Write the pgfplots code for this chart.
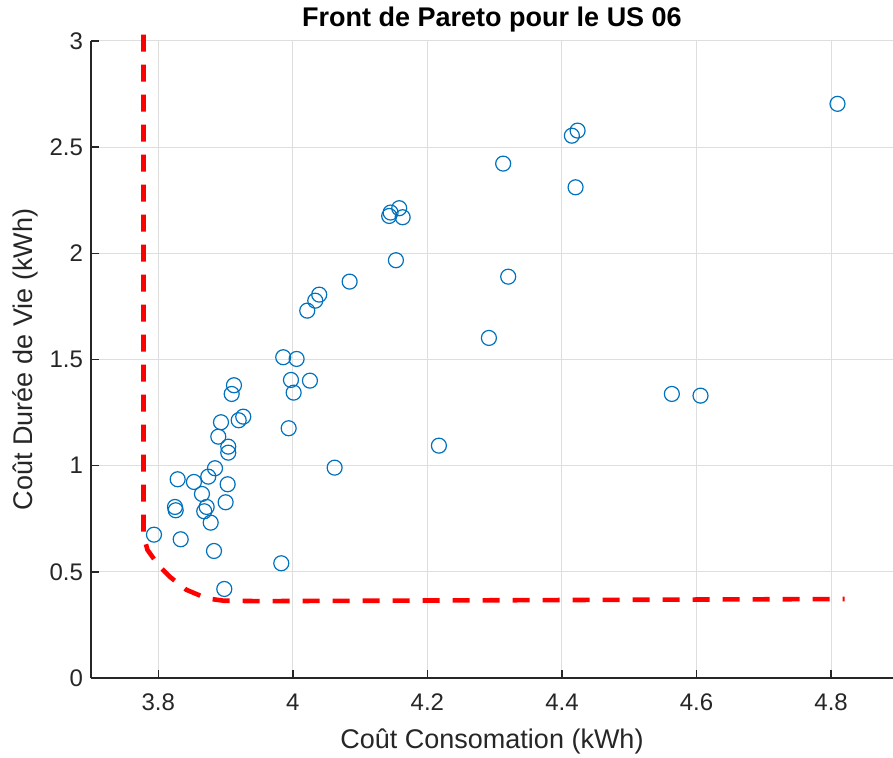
\documentclass[border=0pt]{standalone}
\usepackage{fontspec}
\setmainfont{Liberation Sans}
\usepackage{pgfplots}
\pgfplotsset{compat=1.18}
\usetikzlibrary{calc}

\definecolor{mblue}{rgb}{0,0.447,0.741}
\definecolor{axgray}{rgb}{0.15,0.15,0.15}
\definecolor{gridgray}{rgb}{0.87,0.87,0.87}

\begin{document}
\begin{tikzpicture}
\begin{axis}[
  scale only axis,
  width=401pt, height=318.5pt,
  xmin=3.7, xmax=4.892, ymin=0, ymax=3,
  axis x line=bottom, axis y line=left,
  axis line style={-, draw=axgray, line width=0.75pt},
  tick align=inside,
  major tick length=4pt,
  tick style={draw=axgray, line width=0.75pt},
  xtick={3.8,4,4.2,4.4,4.6,4.8},
  ytick={0,0.5,1,1.5,2,2.5,3},
  grid=major,
  grid style={draw=gridgray, line width=0.5pt},
  /pgf/number format/assume math mode=true,
  tick label style={font=\fontsize{12}{14}\selectfont, text=axgray},
  xticklabel style={yshift=-4.5pt},
  yticklabel style={xshift=-0.5pt},
  xlabel={Coût Consomation (kWh)},
  ylabel={Coût Durée de Vie (kWh)},
  every axis x label/.style={at={(axis description cs:0.5,-0.099)}, anchor=center,
    font=\fontsize{13.5}{16}\selectfont, text=axgray},
  every axis y label/.style={at={(axis description cs:-0.0823,0.5)}, anchor=center, rotate=90,
    font=\fontsize{13.5}{16}\selectfont, text=axgray},
  title={Front de Pareto pour le US 06},
  every axis title/.style={at={(axis description cs:0.5,1.033)}, anchor=center,
    font=\fontsize{13.5}{16}\selectfont\bfseries},
  clip=false,
]
% front de Pareto
\addplot[red, line width=2.3pt, dash pattern=on 8.5pt off 6.5pt] coordinates {
  (3.778,3.03) (3.778,0.67) (3.784,0.603) (3.800,0.532) (3.817,0.477)
  (3.842,0.415) (3.872,0.375) (3.897,0.364) (3.95,0.362) (4.3,0.366) (4.82,0.372)
};
% solutions
\addplot[only marks, mark=o, mark size=3.75pt, mark options={draw=mblue, line width=0.6pt}] coordinates {
  (4.8095,2.704) (4.4232,2.578) (4.4147,2.554) (4.3126,2.4225) (4.4202,2.311)
  (4.1581,2.2125) (4.1453,2.192) (4.1432,2.176) (4.1632,2.170) (4.1532,1.9675)
  (4.3201,1.890) (4.0844,1.8667) (4.0392,1.8055) (4.0333,1.777) (4.0214,1.730)
  (4.2914,1.6015) (3.9857,1.5106) (4.0056,1.5026) (3.9972,1.4037) (4.0254,1.4004)
  (4.0012,1.3439) (3.9125,1.3787) (3.9091,1.3377) (3.9263,1.2308) (3.9195,1.2138)
  (3.8932,1.2044) (4.5633,1.3377) (4.6059,1.3297) (3.8892,1.1366) (3.9938,1.1762)
  (3.9040,1.0895) (3.9040,1.0612) (4.2171,1.0942) (4.0621,0.9906) (3.8843,0.9878)
  (3.8288,0.9359) (3.8530,0.9232) (3.8743,0.9482) (3.9031,0.9124) (3.8248,0.8055)
  (3.8259,0.7899) (3.8649,0.8667) (3.8719,0.8055) (3.8683,0.7852) (3.9001,0.8276)
  (3.8779,0.7315) (3.7936,0.675) (3.8333,0.6533) (3.8828,0.5982) (3.9828,0.5403)
  (3.8981,0.4192)
};
\end{axis}
\pgfresetboundingbox
\path ($(current axis.south west)+(-45.5pt,-40pt)$) rectangle ($(current axis.north east)+(0pt,20.5pt)$);
\end{tikzpicture}
\end{document}
